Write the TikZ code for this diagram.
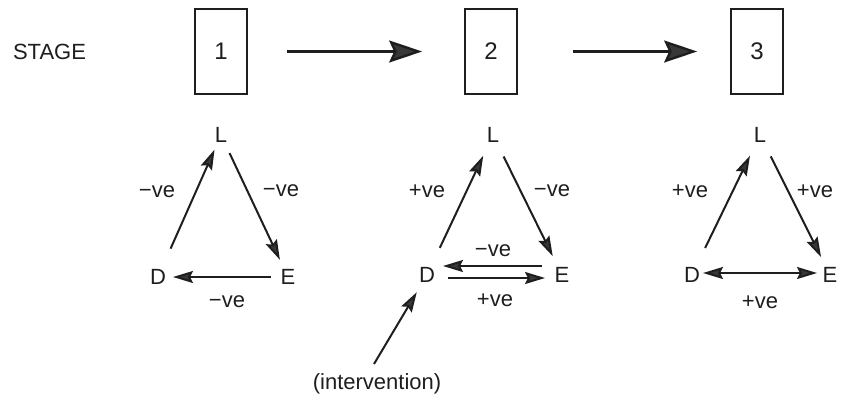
\documentclass[tikz,border=0pt]{standalone}
\usepackage{fontspec}
\setmainfont{Liberation Sans}
\usetikzlibrary{arrows.meta}
\definecolor{ink}{HTML}{1E1E1E}
\definecolor{headfill}{HTML}{383838}
\begin{document}
\begin{tikzpicture}[x=1pt,y=-1pt,
  lab/.style={font=\fontsize{22}{26}\selectfont, text=ink, inner sep=0pt},
  num/.style={font=\fontsize{24}{28}\selectfont, text=ink},
  stagebox/.style={draw=ink, line width=1.7pt, minimum width=52pt, minimum height=85pt, inner sep=0pt},
  link/.style={draw=ink, line width=2pt,
    -{Stealth[length=20pt, width=12pt, inset=3pt, fill=headfill]}},
  bothlink/.style={draw=ink, line width=2pt,
    {Stealth[length=20pt, width=12pt, inset=3pt, fill=headfill]}-{Stealth[length=20pt, width=12pt, inset=3pt, fill=headfill]}},
  bigarrow/.style={draw=ink, line width=2.4pt,
    -{Stealth[length=33pt, width=22pt, inset=5pt, fill=headfill]}}
]
\useasboundingbox (0,0) rectangle (845,397);

% stage header
\node[lab] (stage) at (49.5,52) {STAGE};
\node[stagebox, num] (S1) at (221,51.5) {1};
\node[stagebox, num] (S2) at (491,51.5) {2};
\node[stagebox, num] (S3) at (757,51.5) {3};
\draw[bigarrow, shorten <=39pt, shorten >=42pt] (S1.east) -- (S2.west);
\draw[bigarrow, shorten <=55pt, shorten >=33pt] (S2.east) -- (S3.west);

% stage 1 loop
\node[lab] (L1) at (221,135) {L};
\node[lab] (D1) at (158,277) {D};
\node[lab] (E1) at (288,277) {E};
\draw[link, shorten <=31pt, shorten >=16pt] (D1.center) -- (L1.center);
\draw[link, shorten <=20pt, shorten >=19pt] (L1.center) -- (E1.center);
\draw[link, shorten <=17pt, shorten >=15pt] (E1.center) -- (D1.center);
\node[lab] (a1) at (157,192) {−ve};
\node[lab] (b1) at (281,191) {−ve};
\node[lab] (c1) at (227,302) {−ve};

% stage 2 loop
\node[lab] (L2) at (493,135) {L};
\node[lab] (D2) at (427,275) {D};
\node[lab] (E2) at (562,275) {E};
\draw[link, shorten <=30pt, shorten >=23pt] (D2.center) -- (L2.center);
\draw[link, shorten <=24pt, shorten >=21pt] (L2.center) -- (E2.center);
\draw[link, shorten <=20pt, shorten >=16pt] ([yshift=9pt]E2.center) -- ([yshift=9pt]D2.center);
\draw[link, shorten <=21pt, shorten >=17pt] ([yshift=-3pt]D2.center) -- ([yshift=-3pt]E2.center);
\node[lab] (a2) at (427,191) {+ve};
\node[lab] (b2) at (552,191) {−ve};
\node[lab] (c2) at (493,251) {−ve};
\node[lab] (d2) at (495,300) {+ve};

% intervention
\node[lab] (iv) at (377,384) {(intervention)};
\coordinate (ivstart) at (374,364);
\draw[link, shorten >=20pt] (ivstart) -- (D2.center);

% stage 3 loop
\node[lab] (L3) at (760,135) {L};
\node[lab] (D3) at (692,275) {D};
\node[lab] (E3) at (830,275) {E};
\draw[link, shorten <=30pt, shorten >=23pt] (D3.center) -- (L3.center);
\draw[link, shorten <=24pt, shorten >=20pt] (L3.center) -- (E3.center);
\draw[bothlink, shorten <=11pt, shorten >=13pt] ([yshift=2pt]D3.center) -- ([yshift=2pt]E3.center);
\node[lab] (a3) at (690,191) {+ve};
\node[lab] (b3) at (815,191) {+ve};
\node[lab] (c3) at (760,302) {+ve};
\end{tikzpicture}
\end{document}
